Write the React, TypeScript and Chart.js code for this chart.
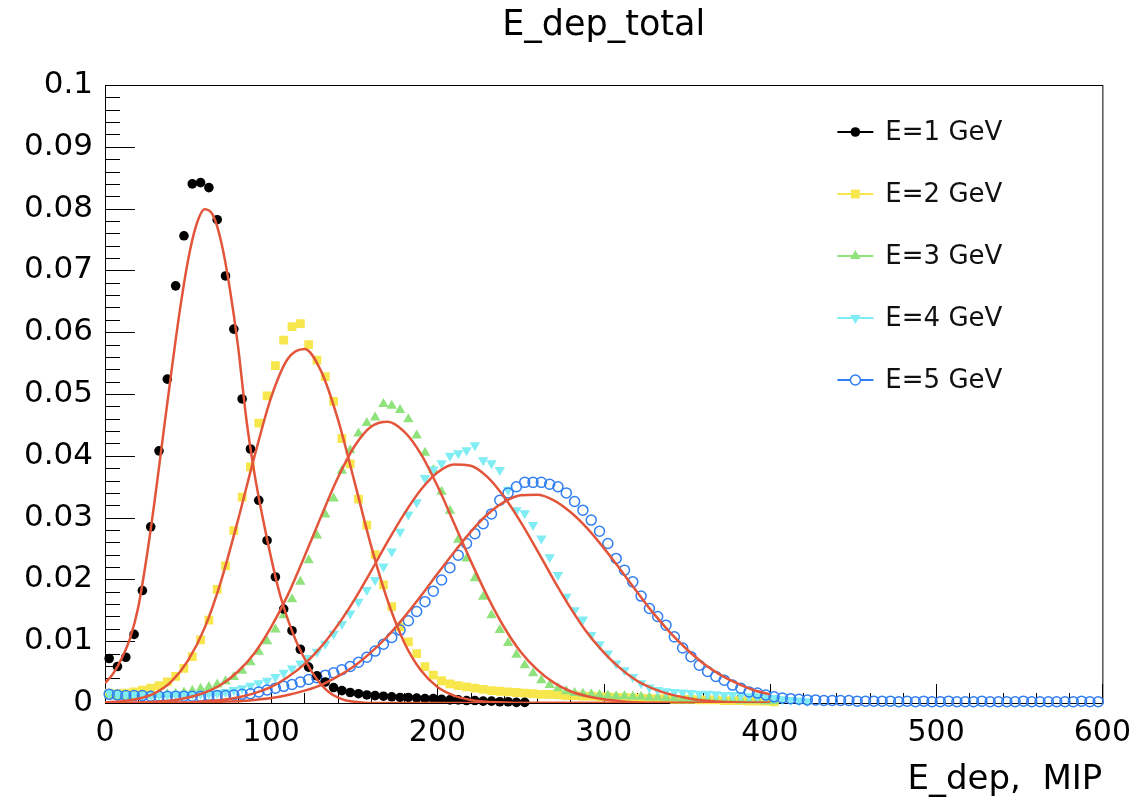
import React, { useEffect, useRef } from 'react';
import { Chart, registerables } from 'chart.js';

Chart.register(...registerables);

// ---------------- data ----------------
const BIN_WIDTH = 5; // MIP per bin, first bin centred at 2.5

const E1_VALUES = [0.0072, 0.0059, 0.0074, 0.0111, 0.0182, 0.0285, 0.0408, 0.0524, 0.0675, 0.0756,
  0.0840, 0.0842, 0.0834, 0.0782, 0.0691, 0.0605, 0.0492, 0.0411, 0.0328, 0.0263,
  0.0204, 0.0152, 0.0117, 0.0087, 0.0058, 0.0044, 0.0034, 0.0025, 0.0020, 0.0017,
  0.0015, 0.0013, 0.0012, 0.0011, 0.0010, 0.0009, 0.0009, 0.0008, 0.0007, 0.0007,
  0.0006, 0.0005, 0.0005, 0.0004, 0.0004, 0.0003, 0.0003, 0.0002, 0.0002, 0.0001, 0.0001];

const E2_VALUES = [0.0016, 0.0015, 0.0016, 0.0018, 0.0021, 0.0024, 0.0028, 0.0034, 0.0043, 0.0056,
  0.0075, 0.0102, 0.0134, 0.0184, 0.0222, 0.0279, 0.0333, 0.0382, 0.0453, 0.0497,
  0.0546, 0.0587, 0.0609, 0.0614, 0.0580, 0.0555, 0.0528, 0.0488, 0.0428, 0.0387,
  0.0330, 0.0288, 0.0240, 0.0191, 0.0156, 0.0123, 0.0099, 0.0080, 0.0059, 0.0045,
  0.0036, 0.0031, 0.0028, 0.0026, 0.0024, 0.0022, 0.0020, 0.0019, 0.0018, 0.0017,
  0.0016, 0.0015, 0.0014, 0.0014, 0.0013, 0.0012, 0.0012, 0.0011, 0.0011, 0.0010,
  0.0010, 0.0009, 0.0009, 0.0008, 0.0008, 0.0007, 0.0007, 0.0007, 0.0006, 0.0006,
  0.0006, 0.0005, 0.0005, 0.0005, 0.0004, 0.0004, 0.0004, 0.0003, 0.0003, 0.0003, 0.0002];

const E3_VALUES = [0.0012, 0.0011, 0.0011, 0.0011, 0.0012, 0.0012, 0.0013, 0.0014, 0.0015, 0.0017,
  0.0020, 0.0023, 0.0026, 0.0030, 0.0035, 0.0042, 0.0052, 0.0066, 0.0083, 0.0100,
  0.0119, 0.0142, 0.0168, 0.0196, 0.0231, 0.0271, 0.0305, 0.0331, 0.0376, 0.0409,
  0.0436, 0.0453, 0.0462, 0.0484, 0.0481, 0.0474, 0.0459, 0.0433, 0.0405, 0.0377,
  0.0342, 0.0311, 0.0264, 0.0234, 0.0202, 0.0172, 0.0142, 0.0118, 0.0097, 0.0078,
  0.0061, 0.0048, 0.0037, 0.0029, 0.0024, 0.0019, 0.0016, 0.0015, 0.0014, 0.0013,
  0.0012, 0.0011, 0.0011, 0.0010, 0.0010, 0.0009, 0.0009, 0.0008, 0.0008, 0.0007,
  0.0007, 0.0006, 0.0006, 0.0005, 0.0005, 0.0005, 0.0004, 0.0004, 0.0004, 0.0003, 0.0003];

const E4_VALUES = [0.0017, 0.0014, 0.0013, 0.0013, 0.0013, 0.0013, 0.0013, 0.0013, 0.0014, 0.0014,
  0.0014, 0.0015, 0.0015, 0.0016, 0.0018, 0.0021, 0.0024, 0.0028, 0.0032, 0.0036,
  0.0042, 0.0049, 0.0056, 0.0064, 0.0073, 0.0083, 0.0096, 0.0112, 0.0128, 0.0145,
  0.0164, 0.0183, 0.0199, 0.0221, 0.0245, 0.0277, 0.0305, 0.0325, 0.0364, 0.0378,
  0.0388, 0.0400, 0.0404, 0.0409, 0.0417, 0.0393, 0.0388, 0.0377, 0.0345, 0.0312,
  0.0307, 0.0288, 0.0266, 0.0236, 0.0207, 0.0172, 0.0150, 0.0135, 0.0110, 0.0095,
  0.0080, 0.0064, 0.0053, 0.0042, 0.0032, 0.0025, 0.0021, 0.0019, 0.0018, 0.0017,
  0.0016, 0.0015, 0.0015, 0.0014, 0.0013, 0.0013, 0.0012, 0.0011, 0.0011, 0.0010,
  0.0008, 0.0006, 0.0005, 0.0004, 0.0003];

const E5_VALUES = [0.0014, 0.0013, 0.0012, 0.0012, 0.0012, 0.0011, 0.0011, 0.0011, 0.0011, 0.0011,
  0.0011, 0.0011, 0.0012, 0.0012, 0.0012, 0.0013, 0.0014, 0.0015, 0.0018, 0.0021,
  0.0024, 0.0027, 0.0030, 0.0034, 0.0038, 0.0041, 0.0045, 0.0049, 0.0054, 0.0059,
  0.0066, 0.0074, 0.0084, 0.0095, 0.0106, 0.0118, 0.0133, 0.0148, 0.0164, 0.0181,
  0.0199, 0.0219, 0.0239, 0.0258, 0.0274, 0.0290, 0.0306, 0.0328, 0.0340, 0.0350,
  0.0357, 0.0357, 0.0357, 0.0354, 0.0350, 0.0340, 0.0326, 0.0312, 0.0296, 0.0278,
  0.0258, 0.0234, 0.0215, 0.0196, 0.0173, 0.0153, 0.0140, 0.0126, 0.0107, 0.0089,
  0.0075, 0.0061, 0.0051, 0.0043, 0.0037, 0.0029, 0.0024, 0.0018, 0.0016, 0.0013,
  0.0010, 0.0008, 0.0007, 0.0006, 0.0005, 0.0005, 0.0004, 0.0004, 0.0004, 0.0004,
  0.0003, 0.0003, 0.0003, 0.0003, 0.0003, 0.0002, 0.0003, 0.0002, 0.0003, 0.0002,
  0.0002, 0.0003, 0.0002, 0.0002, 0.0002, 0.0003, 0.0002, 0.0002, 0.0002, 0.0002,
  0.0003, 0.0002, 0.0002, 0.0002, 0.0002, 0.0002, 0.0002, 0.0003, 0.0002, 0.0002];

// fit curves
const FIT1_X = [0, 5, 10, 15, 20, 25, 30, 35, 40, 45, 50, 55, 60, 65, 70, 75, 80, 85, 90, 95,
  100, 105, 110, 115, 120, 125, 130, 135, 140, 145, 150, 160, 200, 300, 400];
const FIT1_Y = [0.0032, 0.0048, 0.0072, 0.0104, 0.0155, 0.0235, 0.0330, 0.0434, 0.0537, 0.0635,
  0.0717, 0.0774, 0.0799, 0.0789, 0.0745, 0.0672, 0.0578, 0.0460, 0.0370, 0.0298,
  0.0234, 0.0178, 0.0135, 0.0100, 0.0072, 0.0048, 0.0030, 0.0017, 0.0009, 0.0004,
  0.0002, 0, 0, 0, 0];

const FIT_X = [0, 10, 20, 30, 40, 50, 60, 70, 80, 90, 100, 110, 120, 130, 140, 150, 160, 170, 180, 190,
  200, 210, 220, 230, 240, 250, 260, 270, 280, 290, 300, 310, 320, 330, 340, 350, 360, 370, 380, 390, 400];
const FIT2_Y = [0.0001, 0.0003, 0.0007, 0.0016, 0.0035, 0.0069, 0.0122, 0.0199, 0.0296, 0.0400,
  0.0495, 0.0557, 0.0573, 0.0537, 0.0460, 0.0359, 0.0255, 0.0166, 0.0098, 0.0053,
  0.0026, 0.0012, 0.0005, 0.0002, 0.0001, 0, 0, 0, 0, 0, 0, 0, 0, 0, 0, 0, 0, 0, 0, 0, 0];
const FIT3_Y = [0, 0, 0.0001, 0.0002, 0.0004, 0.0009, 0.0017, 0.0030, 0.0051, 0.0081,
  0.0123, 0.0175, 0.0237, 0.0302, 0.0364, 0.0415, 0.0447, 0.0455, 0.0439, 0.0403,
  0.0351, 0.0291, 0.0230, 0.0173, 0.0123, 0.0083, 0.0054, 0.0033, 0.0019, 0.0011,
  0.0006, 0.0003, 0.0001, 0, 0, 0, 0, 0, 0, 0, 0];
const FIT4_Y = [0, 0, 0, 0, 0.0001, 0.0001, 0.0003, 0.0005, 0.0009, 0.0016,
  0.0026, 0.0042, 0.0063, 0.0091, 0.0126, 0.0167, 0.0213, 0.0261, 0.0306, 0.0345,
  0.0373, 0.0386, 0.0384, 0.0366, 0.0334, 0.0293, 0.0247, 0.0199, 0.0154, 0.0114,
  0.0082, 0.0056, 0.0036, 0.0023, 0.0014, 0.0008, 0.0004, 0.0002, 0.0001, 0, 0];
const FIT5_Y = [0, 0, 0, 0, 0, 0, 0.0001, 0.0002, 0.0003, 0.0005,
  0.0008, 0.0013, 0.0020, 0.0029, 0.0043, 0.0060, 0.0082, 0.0108, 0.0139, 0.0173,
  0.0209, 0.0244, 0.0277, 0.0305, 0.0325, 0.0336, 0.0337, 0.0328, 0.0309, 0.0283,
  0.0251, 0.0216, 0.0180, 0.0145, 0.0114, 0.0087, 0.0064, 0.0046, 0.0032, 0.0021, 0.0014];

const SERIES_LABELS = ['E=1 GeV', 'E=2 GeV', 'E=3 GeV', 'E=4 GeV', 'E=5 GeV'];
const X_TICK_LABELS = ['0', '100', '200', '300', '400', '500', '600'];
const Y_TICK_LABELS = ['0', '0.01', '0.02', '0.03', '0.04', '0.05', '0.06', '0.07', '0.08', '0.09', '0.1'];
const TITLE = 'E_dep_total';
const X_TITLE = 'E_dep,  MIP';

// ---------------- styles ----------------
const FONT = '"DejaVu Sans", Verdana, sans-serif';
const FIT_COLOR = '#e2553b';
const MARKERS = [
  { color: '#000000', style: 'circle', radius: 4.8, rotation: 0, filled: true },
  { color: '#f7e64c', style: 'rect', radius: 6.2, rotation: 0, filled: true },
  { color: '#8fe27c', style: 'triangle', radius: 6, rotation: 0, filled: true },
  { color: '#7fedf3', style: 'triangle', radius: 6, rotation: 180, filled: true },
  { color: '#2f7ef2', style: 'circle', radius: 5, rotation: 0, filled: false },
];

const binPoints = (vals: number[]) => vals.map((y, i) => ({ x: i * BIN_WIDTH + BIN_WIDTH / 2, y }));
const fitPoints = (xs: number[], ys: number[]) => xs.map((x, i) => ({ x, y: ys[i] }));

function drawMarker(ctx: CanvasRenderingContext2D, m: any, x: number, y: number) {
  ctx.save();
  ctx.beginPath();
  if (m.style === 'circle') {
    ctx.arc(x, y, m.radius, 0, Math.PI * 2);
  } else if (m.style === 'rect') {
    const s = m.radius * Math.SQRT1_2;
    ctx.rect(x - s, y - s, 2 * s, 2 * s);
  } else {
    let rad = (m.rotation * Math.PI) / 180;
    ctx.moveTo(x + Math.sin(rad) * m.radius, y - Math.cos(rad) * m.radius);
    rad += (2 * Math.PI) / 3;
    ctx.lineTo(x + Math.sin(rad) * m.radius, y - Math.cos(rad) * m.radius);
    rad += (2 * Math.PI) / 3;
    ctx.lineTo(x + Math.sin(rad) * m.radius, y - Math.cos(rad) * m.radius);
    ctx.closePath();
  }
  if (m.filled) {
    ctx.fillStyle = m.color;
    ctx.fill();
  } else {
    ctx.fillStyle = '#ffffff';
    ctx.fill();
    ctx.strokeStyle = m.color;
    ctx.lineWidth = 1.5;
    ctx.stroke();
  }
  ctx.restore();
}

const framePlugin = {
  id: 'rootFrame',
  beforeDatasetsDraw(chart: any) {
    const { ctx, chartArea: a, scales } = chart;
    const xs = scales.x;
    const ys = scales.y;
    ctx.save();
    ctx.strokeStyle = '#000';
    ctx.lineWidth = 1;
    ctx.strokeRect(a.left + 0.5, a.top + 0.5, a.right - a.left, a.bottom - a.top);
    ctx.beginPath();
    // x ticks: major 100, minor 20
    for (let k = 0; k <= 30; k++) {
      const px = Math.round(xs.getPixelForValue(k * 20)) + 0.5;
      const len = k % 5 === 0 ? 19 : 10;
      ctx.moveTo(px, a.bottom);
      ctx.lineTo(px, a.bottom - len);
    }
    // y ticks: major 0.01, minor 0.002
    for (let k = 0; k <= 50; k++) {
      const py = Math.round(ys.getPixelForValue(k * 0.002)) + 0.5;
      const len = k % 5 === 0 ? 30 : 15;
      ctx.moveTo(a.left, py);
      ctx.lineTo(a.left + len, py);
    }
    ctx.stroke();
    ctx.restore();
  },
};

const legendPlugin = {
  id: 'rootLegend',
  afterDraw(chart: any) {
    const { ctx, chartArea: a } = chart;
    const x0 = a.right - 265;
    const lineLen = 36;
    const y0 = a.top + 47;
    const dy = 62;
    ctx.save();
    SERIES_LABELS.forEach((label, i) => {
      const m = MARKERS[i];
      const y = y0 + i * dy;
      ctx.beginPath();
      ctx.strokeStyle = m.color;
      ctx.lineWidth = 2;
      ctx.moveTo(x0, y);
      ctx.lineTo(x0 + lineLen, y);
      ctx.stroke();
      drawMarker(ctx, m, x0 + lineLen / 2, y);
      ctx.fillStyle = '#111';
      ctx.font = `26px ${FONT}`;
      ctx.textAlign = 'left';
      ctx.textBaseline = 'middle';
      ctx.fillText(label, x0 + 48, y + 1);
    });
    ctx.restore();
  },
};

export default function App() {
  const canvasRef = useRef<HTMLCanvasElement | null>(null);

  useEffect(() => {
    document.body.style.margin = '0';
    const canvas = canvasRef.current;
    if (!canvas) return;

    const histSets = [E1_VALUES, E2_VALUES, E3_VALUES, E4_VALUES, E5_VALUES].map((vals, i) => {
      const m = MARKERS[i];
      return {
        label: SERIES_LABELS[i],
        data: binPoints(vals),
        showLine: false,
        pointStyle: m.style,
        pointRadius: m.radius,
        pointRotation: m.rotation,
        pointBackgroundColor: m.filled ? m.color : 'rgba(255,255,255,0)',
        pointBorderColor: m.color,
        pointBorderWidth: m.filled ? 0 : 1.5,
        pointHoverRadius: m.radius,
        clip: 10,
      };
    });

    const fitYs = [FIT1_Y, FIT2_Y, FIT3_Y, FIT4_Y, FIT5_Y];
    const fitSets = fitYs.map((ys, i) => ({
      label: 'fit ' + SERIES_LABELS[i],
      data: fitPoints(i === 0 ? FIT1_X : FIT_X, ys),
      showLine: true,
      borderColor: FIT_COLOR,
      borderWidth: 2.5,
      pointRadius: 0,
      cubicInterpolationMode: 'monotone',
      fill: false,
    }));

    // drawing order: index 0 on top
    const datasets = [...fitSets, histSets[0], histSets[4], histSets[3], histSets[2], histSets[1]];

    const chart = new Chart(canvas, {
      type: 'scatter',
      data: { datasets: datasets as any },
      options: {
        animation: false,
        responsive: true,
        maintainAspectRatio: false,
        events: [],
        layout: { padding: { left: 0, right: 40, top: 0, bottom: 0 } },
        plugins: {
          legend: { display: false },
          tooltip: { enabled: false },
          title: {
            display: true,
            fullSize: false,
            text: TITLE,
            color: '#000',
            font: { family: FONT, size: 35, weight: 'normal' },
            padding: { top: 5, bottom: 38 },
          },
        },
        scales: {
          x: {
            type: 'linear',
            min: 0,
            max: 600,
            afterFit: (s: any) => { s.height = 106; },
            grid: { display: false, drawTicks: false },
            border: { display: false },
            ticks: {
              stepSize: 100,
              color: '#000',
              padding: 12,
              maxRotation: 0,
              font: { family: FONT, size: 30 },
              callback: (v: any) => X_TICK_LABELS[Math.round(Number(v) / 100)],
            },
            title: {
              display: true,
              text: X_TITLE,
              align: 'end',
              color: '#000',
              font: { family: FONT, size: 34 },
              padding: { top: 0, bottom: 8 },
            },
          },
          y: {
            type: 'linear',
            min: 0,
            max: 0.1,
            afterFit: (s: any) => { s.width = 105; },
            grid: { display: false, drawTicks: false },
            border: { display: false },
            ticks: {
              stepSize: 0.01,
              color: '#000',
              padding: 12,
              font: { family: FONT, size: 31 },
              callback: (v: any) => Y_TICK_LABELS[Math.round(Number(v) / 0.01)],
            },
          },
        },
      } as any,
      plugins: [framePlugin, legendPlugin],
    });

    return () => chart.destroy();
  }, []);

  return (
    <div style={{ width: 1143, height: 809, position: 'relative', background: '#fff' }}>
      <canvas ref={canvasRef} />
    </div>
  );
}
